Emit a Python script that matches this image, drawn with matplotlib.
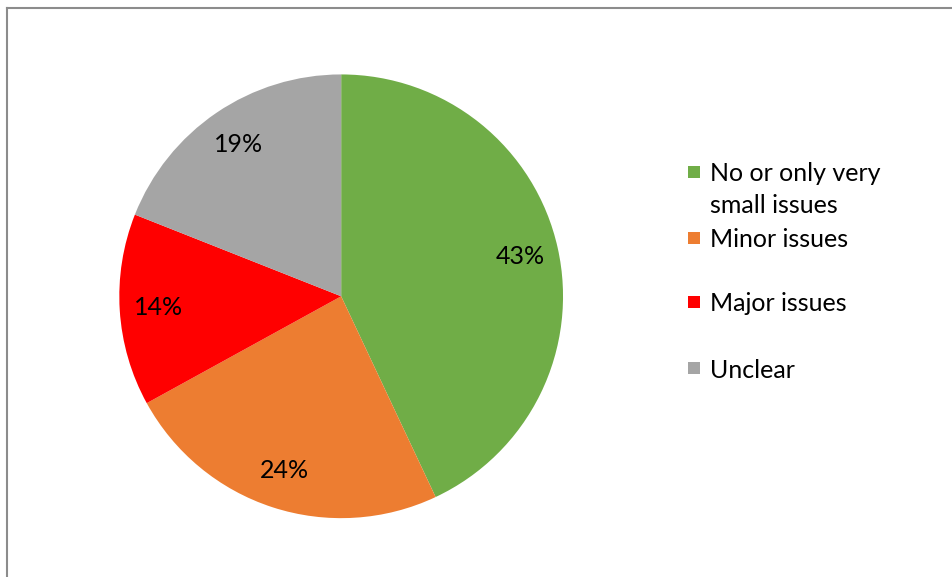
import matplotlib
matplotlib.use('Agg')
import matplotlib.pyplot as plt
from matplotlib.patches import Rectangle
from matplotlib.lines import Line2D

plt.rcParams['font.family'] = ['Lato', 'DejaVu Sans']

categories = ['No or only very\nsmall issues', 'Minor issues', 'Major issues', 'Unclear']
shares = [43, 24, 14, 19]
colors = ['#70AD47', '#ED7D31', '#FF0000', '#A5A5A5']

fig = plt.figure(figsize=(9.53, 5.77), dpi=100, facecolor='white')

# frame lines on top and left side only
fig.add_artist(Line2D([0.007, 1.0], [0.987, 0.987], transform=fig.transFigure,
                      color='#8c8c8c', linewidth=1.5))
fig.add_artist(Line2D([0.007, 0.007], [0.0, 0.987], transform=fig.transFigure,
                      color='#8c8c8c', linewidth=1.5))

ax = fig.add_axes([0.125, 0.102, 0.466, 0.769])
wedges, texts, autotexts = ax.pie(shares, colors=colors, startangle=90, counterclock=False,
                                  autopct='%d%%', pctdistance=0.825,
                                  wedgeprops=dict(linewidth=0),
                                  textprops=dict(fontsize=18, color='black'))
ax.set_xlim(-1, 1)
ax.set_ylim(-1, 1)
ax.set_aspect('equal')

# legend drawn by hand: square marker + label (one text per line)
legend_y = [0.702, 0.588, 0.477, 0.362]
line_step = 0.0555
for label, color, y in zip(categories, colors, legend_y):
    fig.add_artist(Rectangle((0.7215, y - 0.0105), 0.0126, 0.021, transform=fig.transFigure,
                             facecolor=color, edgecolor='none'))
    for i, line in enumerate(label.split('\n')):
        fig.text(0.745, y - i * line_step, line, fontsize=18, va='center_baseline', ha='left')

fig.savefig('out.png', dpi=100, facecolor='white')
